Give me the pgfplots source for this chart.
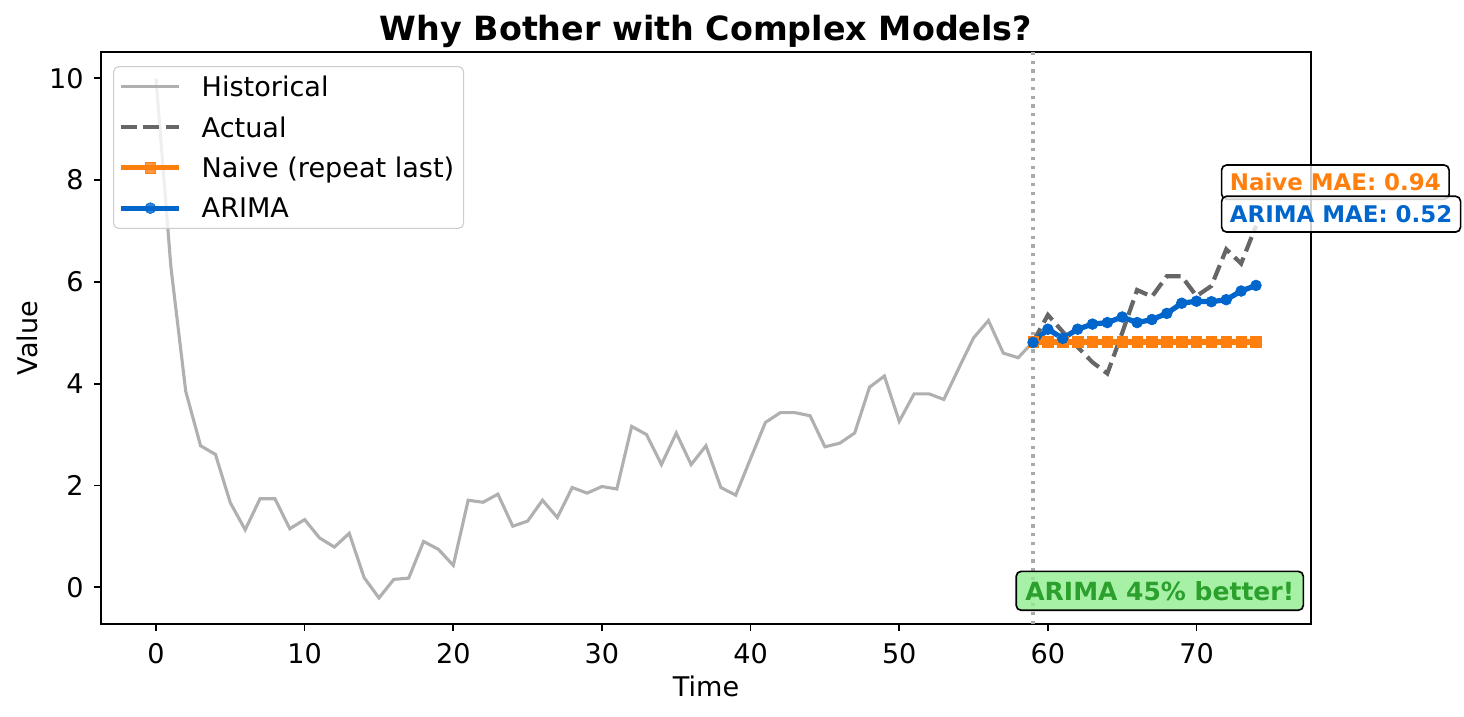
\documentclass[border=0pt]{standalone}
\usepackage{fontspec}
\setmainfont{DejaVu Sans}
\usepackage{pgfplots}
\pgfplotsset{compat=1.18}
\definecolor{chist}{RGB}{176,176,176}
\definecolor{cact}{RGB}{102,102,102}
\definecolor{cnaive}{RGB}{255,127,14}
\definecolor{carima}{RGB}{0,102,204}
\definecolor{cvline}{RGB}{170,170,170}
\definecolor{gtxt}{RGB}{44,160,44}
\definecolor{gfill}{RGB}{144,238,144}
\definecolor{legedge}{RGB}{204,204,204}
\begin{document}
\begin{tikzpicture}
\begin{axis}[
  scale only axis, width=580.8pt, height=274.4pt,
  xmin=-3.7, xmax=77.7, ymin=-0.7205, ymax=10.5105,
  clip=false,
  xtick={0,10,...,70}, ytick={0,2,...,10},
  tick align=outside, tick pos=left,
  major tick length=3.4pt,
  axis line style={line width=0.8pt},
  every tick/.style={black, line width=0.8pt},
  /pgf/number format/assume math mode=true,
  tick label style={font=\fontsize{13}{15.6}\selectfont},
  xticklabel style={inner sep=0pt, yshift=-5.7pt},
  yticklabel style={inner sep=0pt, xshift=-4.8pt},
  xlabel={Time}, ylabel={Value},
  label style={font=\fontsize{13}{15.6}\selectfont},
  xlabel style={at={(rel axis cs:0.5,0)}, anchor=center, yshift=-29.8pt},
  ylabel style={at={(rel axis cs:0,0.5)}, anchor=center, rotate=0, yshift=35.5pt},
  title={Why Bother with Complex Models?},
  title style={font=\bfseries\fontsize{16}{19}\selectfont, at={(0.5,1)}, anchor=base, yshift=-0.5pt},
  legend cell align=left,
  legend image code/.code={\draw[mark repeat=2,mark phase=2,#1] plot coordinates {(0pt,0pt) (13.9pt,0pt) (27.8pt,0pt)};},
  legend style={at={(0,1)}, anchor=north west, xshift=5.8pt, yshift=-6.6pt,
    draw=legedge, line width=0.5pt, rounded corners=2.5pt,
    fill=white, fill opacity=0.8, text opacity=1,
    inner sep=2.5pt, row sep=5pt,
    font=\fontsize{13}{15.6}\selectfont,
    nodes={inner ysep=1pt, inner xsep=2pt},
    /tikz/every odd column/.append style={column sep=7.5pt}},
]
\addplot[chist, line width=1.5pt] coordinates {
(0,10.0) (1,6.3) (2,3.85) (3,2.78) (4,2.61) (5,1.66) (6,1.13) (7,1.74) (8,1.74) (9,1.15)
(10,1.33) (11,0.97) (12,0.79) (13,1.06) (14,0.19) (15,-0.21) (16,0.155) (17,0.18) (18,0.90) (19,0.745)
(20,0.43) (21,1.71) (22,1.67) (23,1.83) (24,1.20) (25,1.30) (26,1.71) (27,1.37) (28,1.96) (29,1.85)
(30,1.98) (31,1.93) (32,3.16) (33,3.00) (34,2.41) (35,3.03) (36,2.41) (37,2.78) (38,1.96) (39,1.81)
(40,2.53) (41,3.24) (42,3.43) (43,3.43) (44,3.37) (45,2.76) (46,2.83) (47,3.03) (48,3.93) (49,4.15)
(50,3.26) (51,3.80) (52,3.80) (53,3.69) (54,4.30) (55,4.90) (56,5.24) (57,4.60) (58,4.51) (59,4.82)
};
\addlegendentry{\strut Historical}
\addplot[cact, line width=2pt, dash pattern=on 7.4pt off 3.2pt] coordinates {
(59,4.82) (60,5.35) (61,5.02) (62,4.72) (63,4.42) (64,4.20) (65,5.0) (66,5.84) (67,5.71) (68,6.11)
(69,6.11) (70,5.72) (71,5.92) (72,6.64) (73,6.36) (74,7.1)
};
\addlegendentry{\strut Actual}
\addplot[cnaive, line width=2.5pt, mark=square*, mark size=2.5pt, mark options={solid, line width=0.3pt}] coordinates {
(59,4.82) (60,4.82) (61,4.82) (62,4.82) (63,4.82) (64,4.82) (65,4.82) (66,4.82) (67,4.82) (68,4.82)
(69,4.82) (70,4.82) (71,4.82) (72,4.82) (73,4.82) (74,4.82)
};
\addlegendentry{\strut Naive (repeat last)}
\addplot[carima, line width=2.5pt, mark=*, mark size=2.6pt, mark options={solid, line width=0.3pt}] coordinates {
(59,4.81) (60,5.07) (61,4.89) (62,5.07) (63,5.17) (64,5.20) (65,5.31) (66,5.20) (67,5.26) (68,5.38)
(69,5.58) (70,5.62) (71,5.61) (72,5.65) (73,5.82) (74,5.93)
};
\addlegendentry{\strut ARIMA}
\addplot[cvline, line width=1.6pt, dash pattern=on 1.6pt off 2.6pt, forget plot] coordinates {(59,-0.7205) (59,10.5105)};
\node[anchor=west, draw=black, line width=0.8pt, rounded corners=2.4pt, fill=white, fill opacity=0.8, text opacity=1, text=cnaive, font=\bfseries\fontsize{11}{13}\selectfont, inner xsep=4pt, inner ysep=4.1pt, text height=8.2pt, text depth=0pt] at (axis cs:71.63,7.96) {Naive MAE: 0.94};
\node[anchor=west, draw=black, line width=0.8pt, rounded corners=2.4pt, fill=white, fill opacity=0.8, text opacity=1, text=carima, font=\bfseries\fontsize{11}{13}\selectfont, inner xsep=4pt, inner ysep=4.5pt, text height=8.2pt, text depth=0pt] at (axis cs:71.63,7.33) {ARIMA MAE: 0.52};
\node[anchor=east, draw=black, line width=0.8pt, rounded corners=2.4pt, fill=gfill, fill opacity=0.8, text opacity=1, text=gtxt, font=\bfseries\fontsize{12}{14}\selectfont, inner xsep=4.4pt, inner ysep=4.85pt, text height=9pt, text depth=0pt] at (axis cs:77.24,-0.07) {ARIMA 45\% better!};
\end{axis}
\pgfresetboundingbox
\useasboundingbox ([xshift=-48.48pt,yshift=-44.64pt]current axis.south west) rectangle ([xshift=73.44pt,yshift=25.1pt]current axis.north east);
\end{tikzpicture}
\end{document}
